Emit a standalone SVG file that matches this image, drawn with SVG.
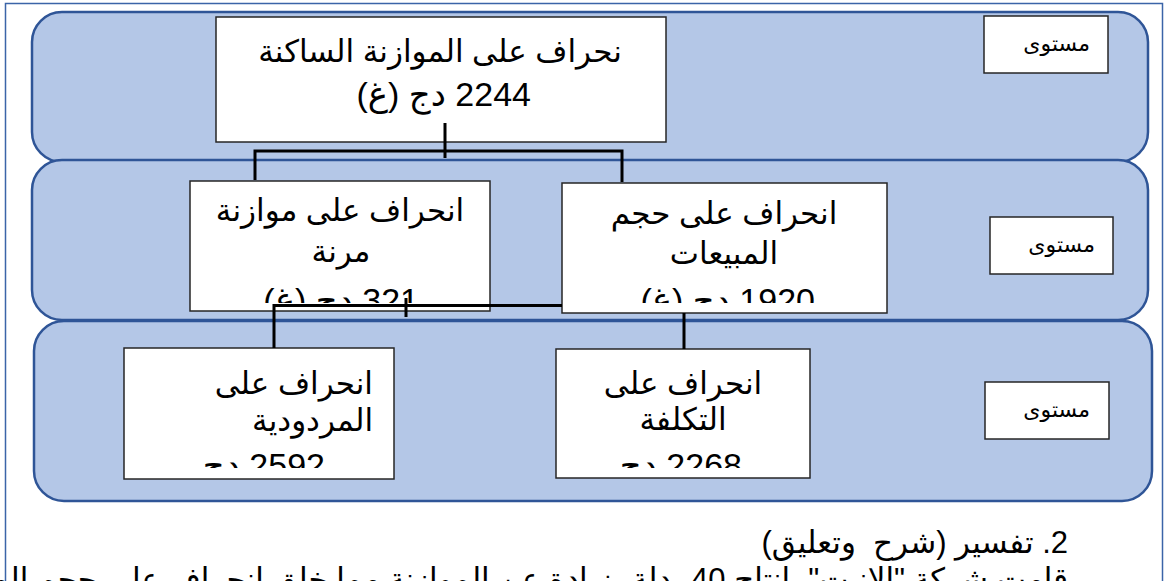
<svg xmlns="http://www.w3.org/2000/svg" width="1166" height="581" viewBox="0 0 1166 581">
<style>
.band{fill:#b4c7e7;stroke:#2f5597;stroke-width:2.5}
.box{fill:#ffffff;stroke:#262626;stroke-width:1.5}
.t{font-family:"Liberation Sans","DejaVu Sans",sans-serif;font-size:31px;fill:#000}
.n{font-family:"Liberation Sans","DejaVu Sans",sans-serif;font-size:34px;fill:#000}
.lbl{font-family:"Liberation Sans","DejaVu Sans",sans-serif;font-size:22px;fill:#000}
.con{fill:none;stroke:#000;stroke-width:3}
</style>
<defs>
<clipPath id="c2l"><rect x="190" y="181" width="300" height="122"/></clipPath>
<clipPath id="c2r"><rect x="562" y="183" width="325" height="120"/></clipPath>
<clipPath id="c3l"><rect x="124" y="348" width="270" height="120"/></clipPath>
<clipPath id="c3r"><rect x="556" y="349" width="254" height="119"/></clipPath>
</defs>
<rect x="0" y="0" width="1166" height="581" fill="#ffffff"/>
<rect x="5.5" y="3.5" width="1157" height="620" fill="none" stroke="#3b64a8" stroke-width="1.5"/>
<g id="band1"><rect class="band" x="32" y="12" width="1116" height="150" rx="30"/></g>
<g id="band2"><rect class="band" x="32" y="160" width="1116" height="160" rx="30"/></g>
<g id="band3"><rect class="band" x="34" y="321" width="1118" height="180" rx="30"/></g>

<g id="lvl1"><rect class="box" x="984" y="16" width="124" height="57"/><text class="lbl" x="1090" y="51" direction="rtl" text-anchor="start">مستوى</text></g>
<g id="lvl2"><rect class="box" x="990" y="217" width="123" height="57"/><text class="lbl" x="1095" y="252" direction="rtl" text-anchor="start">مستوى</text></g>
<g id="lvl3"><rect class="box" x="985" y="382" width="124" height="57"/><text class="lbl" x="1090" y="417" direction="rtl" text-anchor="start">مستوى</text></g>

<g id="static">
<rect class="box" x="216" y="17" width="450" height="125"/>
<text class="t" x="440" y="62" direction="rtl" text-anchor="middle">نحراف على الموازنة الساكنة</text>
<text class="n" x="531" y="106" direction="rtl" text-anchor="start">2244 دج (غ)</text>
</g>
<g id="flexible">
<rect class="box" x="190" y="181" width="300" height="130"/>
<g clip-path="url(#c2l)">
<text class="t" x="340" y="221" direction="rtl" text-anchor="middle">انحراف على موازنة</text>
<text class="t" x="341" y="262" direction="rtl" text-anchor="middle">مرنة</text>
<text class="n" x="419" y="312" direction="rtl" text-anchor="start">321 دج (غ)</text>
</g>
</g>
<g id="volume">
<rect class="box" x="562" y="183" width="325" height="130"/>
<g clip-path="url(#c2r)">
<text class="t" x="724" y="224" direction="rtl" text-anchor="middle">انحراف على حجم</text>
<text class="t" x="724" y="264" direction="rtl" text-anchor="middle">المبيعات</text>
<text class="n" x="815" y="312" direction="rtl" text-anchor="start">1920 دج (غ)</text>
</g>
</g>
<g id="yield">
<rect class="box" x="124" y="348" width="270" height="131"/>
<g clip-path="url(#c3l)">
<text class="t" x="373" y="394" direction="rtl" text-anchor="start">انحراف على</text>
<text class="t" x="373" y="431" direction="rtl" text-anchor="start">المردودية</text>
<text class="n" x="325" y="477" direction="rtl" text-anchor="start">2592 دج</text>
</g>
</g>
<g id="cost">
<rect class="box" x="556" y="349" width="254" height="129"/>
<g clip-path="url(#c3r)">
<text class="t" x="683" y="394" direction="rtl" text-anchor="middle">انحراف على</text>
<text class="t" x="683" y="430" direction="rtl" text-anchor="middle">التكلفة</text>
<text class="n" x="742" y="477" direction="rtl" text-anchor="start">2268 دج</text>
</g>
</g>

<g id="connectors">
<path class="con" d="M445 123V158M255 180V151H622V182"/>
<path class="con" d="M274 348V305.5H562M406 298V317M684 313V349"/>
</g>

<g id="caption">
<text class="t" font-size="32" x="1068" y="553" direction="rtl" text-anchor="start" style="white-space:pre">2. تفسير (شرح  وتعليق)</text>
<text class="t" font-size="28" x="1068" y="590" direction="rtl" text-anchor="start">قامت شركة "الانيت" بإنتاج 40 بدلة بزيادة عن الموازنة مما خلق انحراف على حجم المبيعات</text>
</g>
</svg>
